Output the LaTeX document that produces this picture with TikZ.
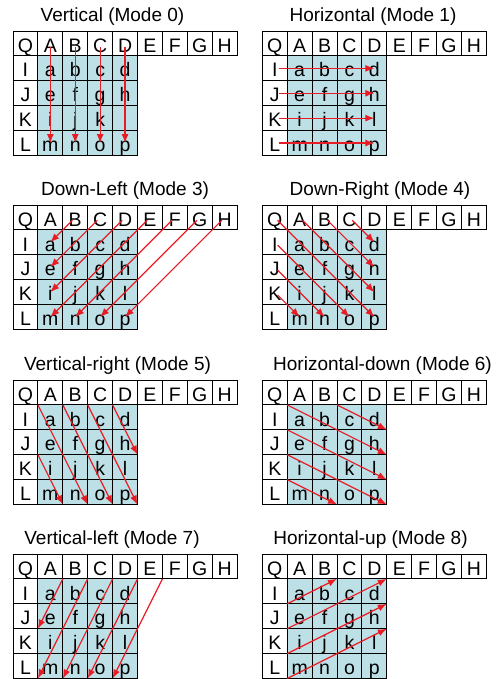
\documentclass[tikz,border=0pt]{standalone}
\usepackage{fontspec}
\setmainfont{Liberation Sans}
\usepackage{tikz}
\usetikzlibrary{arrows.meta}
\usepackage{xcolor}
\definecolor{cellfill}{RGB}{188,224,230}
\definecolor{predred}{RGB}{232,28,36}
\newcommand{\cellsz}{24.9}
\newcommand{\modegrid}[5]{%
\node[modetitle] (#1-title) at (#5,{#3-9.5}) {#4};
\foreach \ltr [count=\i from 0] in {Q,A,B,C,D,E,F,G,H}
  \node[cellbox] (#1-\ltr) at ({#2+(\i+0.5)*\cellsz},{#3+0.5*\cellsz}) {\ltr};
\foreach \rlbl/\rcells [count=\j] in {I/{a,b,c,d},J/{e,f,g,h},K/{i,j,k,l},L/{m,n,o,p}} {
  \node[cellbox] (#1-\rlbl) at ({#2+0.5*\cellsz},{#3+(\j+0.5)*\cellsz}) {\rlbl};
  \foreach \ltr [count=\i] in \rcells
    \node[cellbox,fill=cellfill] (#1-\ltr) at ({#2+(\i+0.5)*\cellsz},{#3+(\j+0.5)*\cellsz}) {\ltr};
}}

\begin{document}
\begin{tikzpicture}[x=1pt,y=-1pt,
  cellbox/.style={draw,line width=0.9pt,minimum width=\cellsz pt,minimum height=\cellsz pt,
    inner sep=0pt,outer sep=0pt,text height=17.3pt,text depth=0pt,font=\fontsize{19.5}{19.5}\selectfont},
  modetitle/.style={anchor=base,inner sep=0pt,font=\fontsize{19}{19}\selectfont},
  predarrow/.style={draw=predred,line width=1.2pt,-{Latex[length=9pt,width=7pt]}}]
\useasboundingbox (0,0) rectangle (500,679);
\modegrid{m0}{13}{31}{Vertical (Mode 0)}{112.5}
\modegrid{m1}{262.3}{31}{Horizontal (Mode 1)}{373}
\modegrid{m3}{13}{205}{Down-Left (Mode 3)}{125}
\modegrid{m4}{262.3}{205}{Down-Right (Mode 4)}{380}
\modegrid{m5}{13}{380}{Vertical-right (Mode 5)}{117.5}
\modegrid{m6}{262.3}{380}{Horizontal-down (Mode 6)}{382.5}
\modegrid{m7}{13}{554}{Vertical-left (Mode 7)}{112}
\modegrid{m8}{262.3}{554}{Horizontal-up (Mode 8)}{370.5}
\foreach \s/\t in {A/m,B/n,C/o,D/p}
  \draw[predarrow,shorten <=4pt] (m0-\s.center) -- (m0-\t.center);
\foreach \s/\t in {I/d,J/h,K/l,L/p}
  \draw[predarrow,shorten <=4pt] (m1-\s.center) -- (m1-\t.center);
\foreach \s/\t in {B/a,C/e,D/i,E/m,F/n,G/o,H/p}
  \draw[predarrow,shorten <=4pt] (m3-\s.center) -- (m3-\t.center);
\foreach \s/\t in {Q/p,A/l,B/h,C/d,I/o,J/n,K/m}
  \draw[predarrow,shorten <=4pt] (m4-\s.center) -- (m4-\t.center);
\foreach \s/\t in {a/n,b/o,c/p,d/h,i/m}
  \draw[predarrow] (m5-\s.north west) -- (m5-\t.south east);
\foreach \s/\t in {a/h,e/l,i/p,m/n,c/d}
  \draw[predarrow] (m6-\s.north west) -- (m6-\t.south east);
\foreach \s/\t in {b.north west/e,c.north west/m,d.north west/n,d.north east/o,E.south east/p}
  \draw[predarrow] (m7-\s) -- (m7-\t.south west);
\foreach \s/\t in {e.north west/b,i.north west/d,m.north west/h,m.south west/l}
  \draw[predarrow] (m8-\s) -- (m8-\t.north east);
\end{tikzpicture}
\end{document}
